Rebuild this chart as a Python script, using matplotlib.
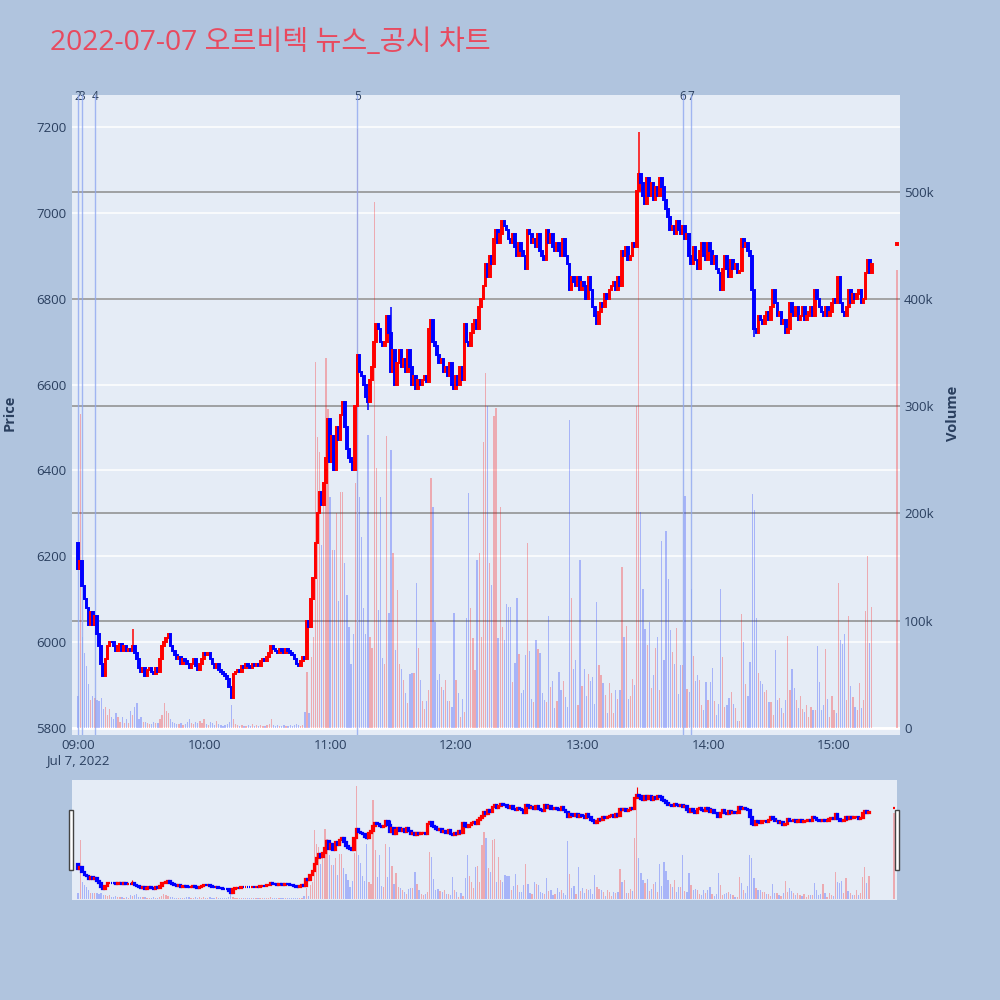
import matplotlib
matplotlib.use('Agg')

import numpy as np
import matplotlib.pyplot as plt
import matplotlib.transforms as mtransforms
from matplotlib.patches import Rectangle

plt.rcParams['font.family'] = ['Open Sans', 'Noto Sans CJK KR', 'DejaVu Sans']

TITLE = '2022-07-07 오르비텍 뉴스_공시 차트'

# 1-minute candles from 09:00, index = minutes after 09:00
first_open = 6230
closes = [
    6170, 6190, 6130, 6100, 6080, 6040, 6070, 6040, 6060, 6020,
    5990, 5950, 5920, 5960, 5990, 6000, 6000, 5990, 5980, 5990,
    5995, 5980, 5990, 5980, 5985, 5980, 5990, 5975, 5960, 5940,
    5930, 5940, 5920, 5935, 5940, 5930, 5925, 5940, 5930, 5960,
    5990, 6000, 6010, 6020, 5990, 5980, 5970, 5960, 5965, 5950,
    5960, 5955, 5950, 5940, 5950, 5960, 5945, 5935, 5950, 5960,
    5975, 5970, 5975, 5960, 5950, 5940, 5950, 5935, 5930, 5925,
    5920, 5915, 5895, 5870, 5925, 5930, 5935, 5930, 5945, 5940,
    5950, 5945, 5940, 5950, 5945, 5950, 5945, 5955, 5960, 5955,
    5965, 5975, 5990, 5985, 5980, 5975, 5985, 5980, 5975, 5985,
    5980, 5975, 5970, 5960, 5950, 5945, 5955, 5965, 5960, 6050,
    6035, 6100, 6150, 6230, 6300, 6350, 6320, 6370, 6430, 6520,
    6420, 6480, 6400, 6500, 6470, 6530, 6560, 6500, 6450, 6430,
    6420, 6400, 6550, 6670, 6630, 6620, 6600, 6570, 6560, 6610,
    6640, 6700, 6740, 6730, 6700, 6690, 6700, 6760, 6720, 6630,
    6680, 6600, 6650, 6680, 6640, 6660, 6630, 6680, 6640, 6600,
    6620, 6590, 6610, 6600, 6610, 6620, 6605, 6730, 6750, 6700,
    6690, 6670, 6650, 6660, 6630, 6640, 6620, 6650, 6600, 6590,
    6620, 6600, 6640, 6610, 6740, 6700, 6690, 6720, 6740, 6750,
    6730, 6780, 6800, 6830, 6880, 6850, 6900, 6880, 6940, 6960,
    6930, 6950, 6980, 6970, 6960, 6940, 6930, 6950, 6920, 6900,
    6930, 6910, 6900, 6870, 6960, 6950, 6930, 6940, 6920, 6950,
    6910, 6900, 6890, 6960, 6930, 6950, 6920, 6910, 6930, 6910,
    6900, 6940, 6900, 6880, 6820, 6850, 6840, 6830, 6850, 6820,
    6840, 6830, 6800, 6850, 6820, 6780, 6760, 6740, 6770, 6790,
    6780, 6810, 6800, 6820, 6830, 6840, 6820, 6850, 6830, 6910,
    6900, 6920, 6890, 6900, 6930, 6920, 7050, 7090, 7070, 7040,
    7020, 7080, 7040, 7070, 7030, 7060, 7040, 7080, 7060, 7030,
    7010, 6990, 6960, 6970, 6950, 6980, 6960, 6950, 6970, 6940,
    6950, 6900, 6880, 6920, 6890, 6870, 6910, 6930, 6900, 6890,
    6930, 6910, 6880, 6900, 6870, 6860, 6820, 6870, 6900, 6870,
    6850, 6890, 6870, 6880, 6860, 6865, 6940, 6920, 6930, 6910,
    6900, 6820, 6730, 6720, 6760, 6750, 6740, 6760, 6770, 6750,
    6780, 6820, 6790, 6760, 6770, 6740, 6750, 6720, 6730, 6790,
    6770, 6760, 6780, 6750, 6760, 6780, 6750, 6760, 6770, 6780,
    6760, 6820, 6800, 6780, 6770, 6760, 6780, 6760, 6770, 6790,
    6800, 6790, 6850, 6790, 6770, 6760, 6780, 6820, 6790, 6810,
    6800, 6810, 6820, 6790, 6800, 6860, 6890, 6860, 6880,
]
# volume in thousands of shares
volumes_k = [
    30, 293, 85, 70, 58, 41, 26, 30, 28, 26,
    25, 28, 18, 20, 12, 18, 10, 8, 14, 10,
    6, 10, 5, 8, 5, 16, 12, 20, 23, 8,
    10, 6, 6, 5, 4, 4, 6, 5, 5, 8,
    12, 23, 16, 14, 8, 6, 5, 4, 4, 5,
    3, 4, 6, 8, 5, 4, 6, 5, 7, 5,
    8, 4, 3, 6, 5, 3, 7, 4, 3, 2,
    3, 4, 6, 21, 8, 4, 3, 2, 3, 2,
    2, 3, 2, 4, 2, 3, 2, 3, 2, 2,
    3, 4, 8, 3, 2, 3, 2, 2, 3, 2,
    2, 3, 2, 3, 4, 3, 2, 3, 15, 52,
    14, 66, 85, 341, 271, 257, 171, 215, 345, 297,
    215, 166, 166, 200, 118, 220, 220, 154, 124, 94,
    60, 88, 228, 558, 215, 178, 112, 88, 273, 85,
    75, 490, 242, 110, 215, 65, 60, 272, 107, 259,
    163, 73, 129, 60, 55, 45, 33, 23, 50, 51,
    51, 135, 75, 45, 25, 18, 25, 35, 233, 206,
    99, 45, 50, 38, 35, 45, 25, 25, 20, 107,
    45, 33, 10, 27, 15, 103, 219, 112, 84, 54,
    157, 163, 85, 267, 331, 300, 154, 133, 291, 298,
    84, 206, 94, 82, 116, 113, 113, 43, 61, 121,
    69, 33, 35, 68, 172, 72, 27, 24, 82, 74,
    70, 33, 26, 24, 104, 38, 44, 19, 25, 52,
    35, 44, 29, 20, 287, 121, 55, 63, 21, 157,
    39, 55, 30, 50, 44, 48, 22, 117, 59, 49,
    42, 31, 14, 42, 33, 14, 35, 27, 35, 150,
    85, 95, 27, 30, 46, 40, 300, 520, 201, 130,
    92, 77, 99, 37, 49, 75, 85, 35, 174, 63,
    184, 139, 91, 71, 60, 93, 32, 59, 59, 216,
    36, 34, 130, 67, 44, 49, 45, 21, 17, 43,
    26, 43, 56, 25, 12, 22, 130, 66, 20, 21,
    28, 34, 22, 19, 7, 7, 106, 80, 41, 30,
    62, 218, 203, 103, 51, 44, 41, 34, 35, 24,
    24, 12, 73, 26, 28, 19, 14, 26, 86, 35,
    55, 37, 26, 19, 30, 18, 15, 21, 10, 20,
    17, 17, 76, 43, 17, 21, 74, 27, 10, 30,
    17, 14, 135, 82, 78, 88, 26, 104, 39, 29,
    20, 17, 42, 19, 26, 109, 160, 79, 113,
]
# wick extremes that stick out of the bodies
highs = {0: 6230, 26: 6030, 149: 6780, 267: 7188}
lows = {138: 6541, 322: 6710}

# 15:30 closing auction
auction_minute = 390
auction_open = 6925
auction_close = 6930
auction_volume_k = 427

news_minutes = [0, 2, 8, 133, 288, 292]
news_labels = ['2', '3', '4', '5', '6', '7']

tick_minutes = [0, 60, 120, 180, 240, 300, 360]
tick_labels = ['09:00\nJul 7, 2022', '10:00', '11:00', '12:00', '13:00', '14:00', '15:00']

BG = '#b0c4de'
PLOT_BG = '#e5ecf6'
INC = '#ff0000'
DEC = '#0000ff'
TXT = '#2a3f5f'

XLIM = (-2.9, 391.4)
PRICE_LIM = (5783.7, 7274.5)
VOL_LIM = (-6500, 590000)

n = min(len(closes), len(volumes_k))
x = np.append(np.arange(n), auction_minute).astype(float)
o = np.append([first_open] + closes[:n - 1], auction_open).astype(float)
c = np.append(closes[:n], auction_close).astype(float)
v = np.append(volumes_k[:n], auction_volume_k).astype(float) * 1000
up = c > o
hi = np.array([max(oo, cc, highs.get(i, 0)) for i, (oo, cc) in enumerate(zip(o, c))])
lo = np.array([min(oo, cc, lows.get(i, 1e9)) for i, (oo, cc) in enumerate(zip(o, c))])
cols = np.where(up, INC, DEC)
vcols = [(1, 0, 0, 0.28) if u else (0.1, 0.2, 1, 0.30) for u in up]


def draw(ax_vol, ax_cdl, body_w, body_lw, wick_lw, vol_w):
    ax_vol.bar(x, v, width=vol_w, color=vcols, linewidth=0, zorder=2)
    ax_cdl.vlines(x, lo, hi, colors=cols, linewidth=wick_lw, zorder=3)
    ax_cdl.bar(x, np.maximum(np.abs(c - o), 0.5), bottom=np.minimum(o, c), width=body_w,
               color=cols, edgecolor=cols, linewidth=body_lw, zorder=4)


def make_axes(rect):
    ax_p = fig.add_axes(rect, facecolor=PLOT_BG)
    ax_v = fig.add_axes(rect, sharex=ax_p)
    ax_v.patch.set_alpha(0)
    ax_c = fig.add_axes(rect, sharex=ax_p, sharey=ax_p)
    ax_c.patch.set_alpha(0)
    ax_c.axis('off')
    for a in (ax_p, ax_v):
        for s in a.spines.values():
            s.set_visible(False)
    ax_p.set_xlim(*XLIM)
    ax_p.set_ylim(*PRICE_LIM)
    ax_v.set_ylim(*VOL_LIM)
    return ax_p, ax_v, ax_c


fig = plt.figure(figsize=(10, 10), dpi=100, facecolor=BG)

# ---- main chart
ax_p, ax_v, ax_c = make_axes([0.072, 0.265, 0.828, 0.64])
ax_p.set_yticks(range(5800, 7201, 200))
ax_p.grid(axis='y', color='white', linewidth=1.1)
ax_p.set_axisbelow(True)
ax_p.tick_params(axis='y', length=0, pad=4, labelsize=9.5, labelcolor=TXT)
ax_p.set_xticks(tick_minutes)
ax_p.set_xticklabels(tick_labels)
ax_p.tick_params(axis='x', length=0, pad=3, labelsize=9.5, labelcolor=TXT)

ax_v.yaxis.tick_right()
ax_v.set_yticks([0, 100000, 200000, 300000, 400000, 500000])
ax_v.set_yticklabels(['0', '100k', '200k', '300k', '400k', '500k'])
ax_v.tick_params(axis='y', length=0, pad=3, labelsize=9.5, labelcolor=TXT)
ax_v.tick_params(axis='x', labelbottom=False, length=0)
for yv in [100000, 200000, 300000, 400000, 500000]:
    ax_v.axhline(yv, color='#8c8c8c', linewidth=1.1, zorder=1)
ax_v.axhline(0, color='white', linewidth=2, zorder=1)

draw(ax_v, ax_c, body_w=0.8, body_lw=1.4, wick_lw=1.1, vol_w=0.6)

blend = mtransforms.blended_transform_factory(ax_p.transData, ax_p.transAxes)
for m, lab in zip(news_minutes, news_labels):
    ax_v.axvline(m, color='#8fa8f0', linewidth=1, alpha=0.8, zorder=2.5)
    ax_p.text(m, 0.997, lab, transform=blend, ha='center', va='center',
              fontsize=8.5, color=TXT)

fig.text(0.05, 0.957, TITLE, fontsize=20.3, color='#e84a5f', ha='left', va='center')
fig.text(0.010, 0.587, 'Price', rotation=90, fontsize=10.5, fontweight='bold',
         color=TXT, ha='center', va='center')
fig.text(0.953, 0.587, 'Volume', rotation=90, fontsize=10.5, fontweight='bold',
         color=TXT, ha='center', va='center')

# ---- range slider
sp, sv, sc = make_axes([0.072, 0.100, 0.825, 0.120])
for a in (sp, sv):
    a.set_xticks([])
    a.set_yticks([])
draw(sv, sc, body_w=0.8, body_lw=1.6, wick_lw=0.8, vol_w=0.6)

for hx in (0.069, 0.895):
    fig.patches.append(Rectangle((hx, 0.130), 0.004, 0.060, transform=fig.transFigure,
                                 facecolor='white', edgecolor='#444444', linewidth=1))

fig.savefig('out.png', dpi=100, facecolor=BG)
